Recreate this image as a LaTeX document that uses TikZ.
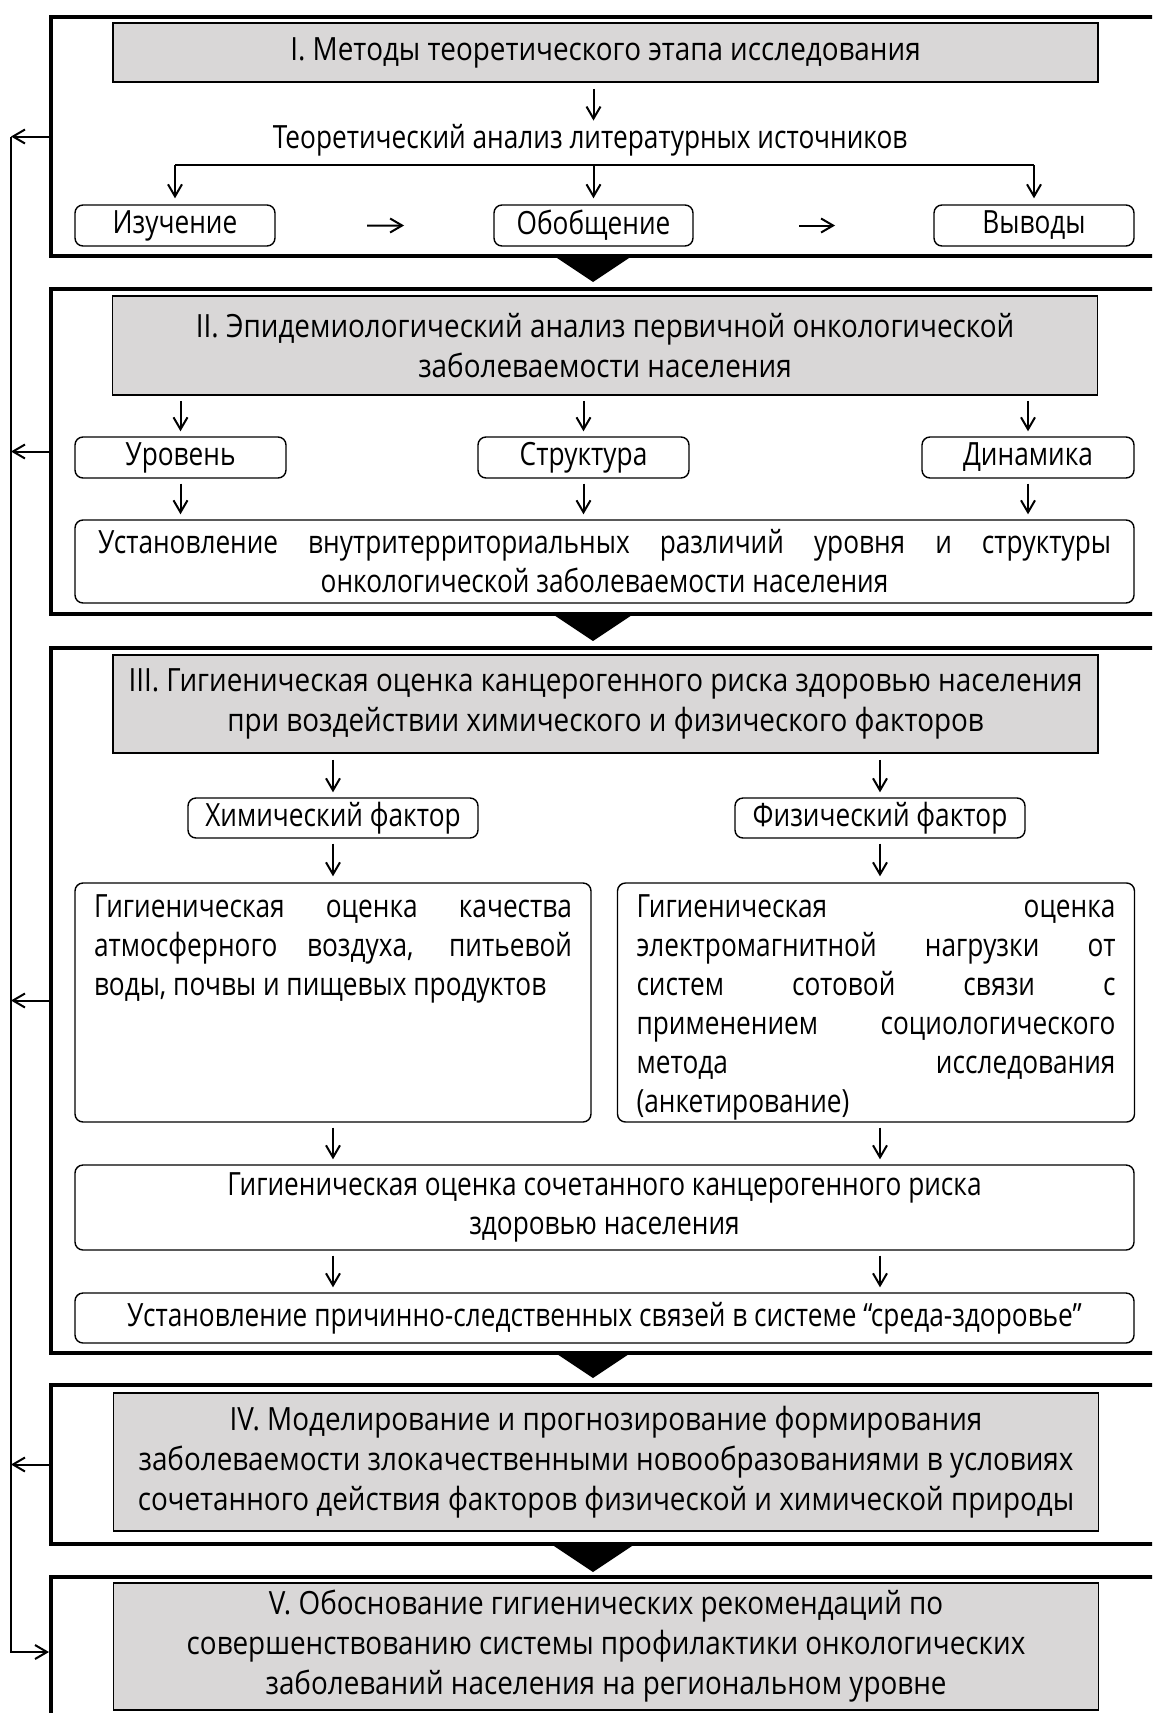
\documentclass[tikz,border=0pt]{standalone}
\usepackage{fontspec}
\setmainfont{Open Sans}[FakeStretch=0.82]
\newfontfamily\hdrfont{Open Sans}[FakeStretch=0.87]
\usetikzlibrary{arrows.meta,positioning,calc}
\definecolor{hdrGray}{RGB}{217,215,215}

\tikzset{
  arr/.style={-{Straight Barb[length=12pt,width=14pt]},line width=2pt},
  stageframe/.style={draw,line width=4pt,minimum width=1200pt,
                     anchor=north west,inner sep=0pt},
  stagehead/.style={draw,fill=hdrGray,line width=1.8pt,minimum width=985pt,
                    align=center,inner sep=0pt,
                    font=\hdrfont\fontsize{32}{40}\selectfont},
  stepbox/.style={draw,rounded corners=8pt,line width=1.4pt,inner sep=0pt,
                  align=center},
  factbox/.style={draw,rounded corners=8pt,line width=1.4pt,
                  inner xsep=19pt,inner ysep=12pt}
}

\begin{document}
\begin{tikzpicture}[x=1pt,y=-1pt,font=\fontsize{32}{39}\selectfont]
  \useasboundingbox (0,0) rectangle (1152,1713);
  \clip (0,0) rectangle (1152,1713);

  % Рамки этапов
  \node[stageframe,minimum height=239pt] (frameI)   at (49,15)   {};
  \node[stageframe,minimum height=325pt] (frameII)  at (49,287)  {};
  \node[stageframe,minimum height=705pt] (frameIII) at (49,646)  {};
  \node[stageframe,minimum height=159pt] (frameIV)  at (49,1383) {};
  \node[stageframe,minimum height=150pt] (frameV)   at (49,1575) {};

  % Треугольники между этапами
  \foreach \y in {256,615,1352,1546}{
    \fill (554,\y) -- (632,\y) -- (593,{\y+26}) -- cycle;
  }

  % I этап
  \node[stagehead,minimum height=59pt] (hdrI) at (605.5,52.5)
    {I. Методы теоретического этапа исследования};
  \node (lit) at (590,140) {Теоретический анализ литературных источников};
  \node[stepbox,minimum width=200pt,minimum height=41pt] (study) at (175,225.5) {Изучение};
  \node[stepbox,minimum width=199pt,minimum height=41pt] (gen)   at (593.5,225.5) {Обобщение};
  \node[stepbox,minimum width=200pt,minimum height=41pt] (concl) at (1034,225.5) {Выводы};
  \coordinate (fork) at (593,165);

  \draw[arr,shorten <=6pt] (hdrI.south -| gen) -- (lit.north -| gen);
  \draw[line width=2pt] (fork -| study) -- (fork -| concl);
  \foreach \n in {study,gen,concl}
    \draw[arr,shorten >=6pt] (fork -| \n) -- (\n.north);
  \draw[arr] ($(study.east)!0.42!(gen.west)$) -- ($(study.east)!0.59!(gen.west)$);
  \draw[arr] ($(gen.east)!0.44!(concl.west)$) -- ($(gen.east)!0.59!(concl.west)$);

  % II этап
  \node[stagehead,minimum height=99pt] (hdrII) at (605,345.5)
    {II. Эпидемиологический анализ первичной онкологической\\
     заболеваемости населения};
  \node[stepbox,minimum width=211pt,minimum height=41pt] (level)  at (180.5,457.5) {Уровень};
  \node[stepbox,minimum width=211pt,minimum height=41pt] (struct) at (583.5,457.5) {Структура};
  \node[stepbox,minimum width=212pt,minimum height=41pt] (dyn)    at (1028,457.5)  {Динамика};
  \node[stepbox,minimum width=1059pt,minimum height=83pt] (diff) at (604.5,561.5)
    {\makebox[1013pt][s]{Установление внутритерриториальных различий уровня и структуры}\\
     онкологической заболеваемости населения};

  \foreach \n in {level,struct,dyn}{
    \draw[arr,shorten <=5pt,shorten >=5pt] (hdrII.south -| \n) -- (\n.north);
    \draw[arr,shorten <=5pt,shorten >=5pt] (\n.south) -- (diff.north -| \n);
  }

  % III этап
  \node[stagehead,minimum height=98pt] (hdrIII) at (605.5,704)
    {III. Гигиеническая оценка канцерогенного риска здоровью населения\\
     при воздействии химического и физического факторов};
  \node[stepbox,minimum width=290pt,minimum height=40pt] (chem) at (333,818) {Химический фактор};
  \node[stepbox,minimum width=290pt,minimum height=40pt] (phys) at (880,818) {Физический фактор};
  \node[factbox] (chemtext) at (333,1002.5)
    {\parbox[c][215pt][t]{478pt}{Гигиеническая оценка качества\linebreak
     атмосферного воздуха, питьевой\linebreak воды, почвы и пищевых продуктов}};
  \node[factbox] (phystext) at (876,1002.5)
    {\parbox[c][215pt][t]{479pt}{Гигиеническая оценка\linebreak
     электромагнитной нагрузки от\linebreak систем сотовой связи с\linebreak
     применением социологического\linebreak метода исследования\linebreak
     (анкетирование)}};
  \node[stepbox,minimum width=1059pt,minimum height=85pt] (comb) at (604.5,1207.5)
    {Гигиеническая оценка сочетанного канцерогенного риска\\здоровью населения};
  \node[stepbox,minimum width=1059pt,minimum height=50pt] (cause) at (604.5,1318)
    {Установление причинно-следственных связей в системе “среда-здоровье”};

  \foreach \a/\b in {chem/chemtext,phys/phystext}{
    \draw[arr,shorten <=6pt,shorten >=5pt] (hdrIII.south -| \a) -- (\a.north);
    \draw[arr,shorten <=5pt,shorten >=6pt] (\a.south) -- (\b.north -| \a);
    \draw[arr,shorten <=5pt,shorten >=5pt] (\b.south -| \a) -- (comb.north -| \a);
    \draw[arr,shorten <=5pt,shorten >=5pt] (comb.south -| \a) -- (cause.north -| \a);
  }

  % IV этап
  \node[stagehead,minimum height=138pt] (hdrIV) at (606,1462)
    {IV. Моделирование и прогнозирование формирования\\
     заболеваемости злокачественными новообразованиями в условиях\\
     сочетанного действия факторов физической и химической природы};

  % V этап
  \node[stagehead,minimum height=127pt] (hdrV) at (606,1646.5)
    {V. Обоснование гигиенических рекомендаций по\\
     совершенствованию системы профилактики онкологических\\
     заболеваний населения на региональном уровне};

  % Обратная связь
  \coordinate (fb) at (11,0);
  \foreach \f in {frameI,frameII,frameIII,frameIV}
    \draw[arr] (\f.west) -- (\f.west -| fb);
  \draw[arr] (frameI.west -| fb) -- (frameV.west -| fb) -- (frameV.west);
\end{tikzpicture}
\end{document}
